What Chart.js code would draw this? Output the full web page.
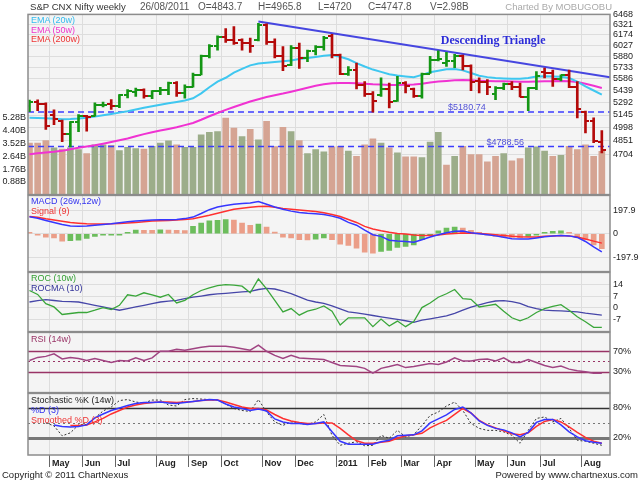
<!DOCTYPE html>
<html>
<head>
<meta charset="utf-8">
<title>S&amp;P CNX Nifty weekly</title>
<script src="https://cdn.jsdelivr.net/npm/chart.js@4.4.1/dist/chart.umd.min.js"></script>
<style>
	html, body { margin: 0; padding: 0; background: #fff; }
	#wrap { position: relative; width: 640px; height: 480px; overflow: hidden; font-family: Arial, "Liberation Sans", sans-serif; }
	#wrap canvas { position: absolute; left: 0; }
	.t { position: absolute; white-space: nowrap; font-size: 9px; line-height: 10px; z-index: 5; }
	.hd { position: absolute; top: 1px; white-space: nowrap; font-size: 10px; line-height: 12px; color: #555; z-index: 5; }
</style>
</head>
<body>
<div id="wrap">
	<canvas id="cMain" width="640" height="197" style="top:6px"></canvas>
	<canvas id="cMacd" width="640" height="93" style="top:187px"></canvas>
	<canvas id="cRoc" width="640" height="76" style="top:264px"></canvas>
	<canvas id="cRsi" width="640" height="77" style="top:324px"></canvas>
	<canvas id="cSto" width="640" height="90" style="top:385px"></canvas>

	<div class="hd" style="left:30px;color:#333;font-size:9.6px">S&amp;P CNX Nifty weekly</div>
	<div class="hd" id="hDate" style="left:140px"></div>
	<div class="hd" id="hO" style="left:198px"></div>
	<div class="hd" id="hH" style="left:258px"></div>
	<div class="hd" id="hL" style="left:318px"></div>
	<div class="hd" id="hC" style="left:368px"></div>
	<div class="hd" id="hV" style="left:430px"></div>
	<div class="hd" style="right:28px;color:#aaa;font-size:9.5px">Charted By MOBUGOBU</div>

	<div class="t" style="left:31px;top:15px;color:#33bbee">EMA (20w)</div>
	<div class="t" style="left:31px;top:24.5px;color:#ee33cc">EMA (50w)</div>
	<div class="t" style="left:31px;top:34px;color:#ee3333">EMA (200w)</div>

	<div class="t" style="left:31px;top:195.5px;color:#3333ee">MACD (26w,12w)</div>
	<div class="t" style="left:31px;top:205.5px;color:#ee3333">Signal (9)</div>

	<div class="t" style="left:31px;top:272.5px;color:#33a033">ROC (10w)</div>
	<div class="t" style="left:31px;top:282.5px;color:#333399">ROCMA (10)</div>

	<div class="t" style="left:31px;top:334px;color:#993366">RSI (14w)</div>

	<div class="t" style="left:31px;top:394.5px;color:#222">Stochastic %K (14w)</div>
	<div class="t" style="left:31px;top:404.5px;color:#3333ee">%D (3)</div>
	<div class="t" style="left:31px;top:414.5px;color:#ee3333">Smoothed %D (3)</div>

	<div class="t" style="left:2px;top:470px;font-size:9.5px;color:#222">Copyright © 2011 ChartNexus</div>
	<div class="t" style="right:2px;top:470px;font-size:9.5px;color:#222">Powered by www.chartnexus.com</div>
</div>
<script>
// weekly bars, week ending Friday
var weeks = ['23/04/2010','30/04/2010','07/05/2010','14/05/2010','21/05/2010','28/05/2010','04/06/2010','11/06/2010','18/06/2010','25/06/2010',
	'02/07/2010','09/07/2010','16/07/2010','23/07/2010','30/07/2010','06/08/2010','13/08/2010','20/08/2010','27/08/2010','03/09/2010',
	'10/09/2010','17/09/2010','24/09/2010','01/10/2010','08/10/2010','15/10/2010','22/10/2010','29/10/2010','05/11/2010','12/11/2010',
	'19/11/2010','26/11/2010','03/12/2010','10/12/2010','17/12/2010','24/12/2010','31/12/2010','07/01/2011','14/01/2011','21/01/2011',
	'28/01/2011','04/02/2011','11/02/2011','18/02/2011','25/02/2011','04/03/2011','11/03/2011','18/03/2011','25/03/2011','01/04/2011',
	'08/04/2011','15/04/2011','22/04/2011','29/04/2011','06/05/2011','13/05/2011','20/05/2011','27/05/2011','03/06/2011','10/06/2011',
	'17/06/2011','24/06/2011','01/07/2011','08/07/2011','15/07/2011','22/07/2011','29/07/2011','05/08/2011','12/08/2011','19/08/2011',
	'26/08/2011'];

var opens = [5250, 5304, 5278, 5150, 5080, 4930, 5066, 5135, 5130, 5260,
	5270, 5251, 5383, 5420, 5449, 5367, 5430, 5452, 5530, 5408,
	5480, 5640, 5884, 6018, 6143, 6103, 6100, 6066, 6100, 6312,
	6071, 5890, 5760, 5992, 5857, 5948, 6011, 6157, 5904, 5654,
	5696, 5512, 5396, 5380, 5459, 5310, 5539, 5460, 5374, 5654,
	5826, 5790, 5824, 5885, 5750, 5560, 5545, 5400, 5476, 5517,
	5486, 5366, 5471, 5680, 5661, 5581, 5634, 5482, 5180, 5073,
	4843.7];
var highs = [5323, 5327, 5290, 5207, 5085, 5070, 5150, 5140, 5290, 5300,
	5330, 5390, 5450, 5470, 5462, 5440, 5478, 5545, 5552, 5512,
	5659, 5898, 6040, 6160, 6262, 6290, 6120, 6130, 6338, 6330,
	6120, 6010, 6025, 6060, 5963, 6025, 6153, 6181, 5910, 5745,
	5790, 5552, 5428, 5598, 5533, 5618, 5552, 5470, 5659, 5880,
	5952, 5933, 5905, 5898, 5766, 5598, 5577, 5490, 5533, 5552,
	5533, 5475, 5680, 5725, 5700, 5637, 5700, 5552, 5190, 5111,
	4965.8];
var lows = [5185, 5196, 4980, 5034, 4842, 4786, 4955, 4960, 5130, 5240,
	5210, 5233, 5350, 5368, 5347, 5340, 5390, 5388, 5368, 5345,
	5480, 5637, 5860, 5963, 6070, 6040, 5963, 5933, 6090, 6040,
	5859, 5690, 5757, 5720, 5810, 5898, 5963, 5860, 5640, 5630,
	5461, 5368, 5177, 5368, 5228, 5305, 5409, 5355, 5347, 5654,
	5819, 5745, 5730, 5700, 5437, 5409, 5390, 5327, 5450, 5450,
	5360, 5195, 5450, 5598, 5490, 5561, 5475, 5111, 4940, 4832,
	4720];
var closes = [5304, 5278, 5018, 5093, 4931, 5066, 5135, 5119, 5263, 5269,
	5251, 5383, 5430, 5449, 5367, 5439, 5452, 5530, 5408, 5480,
	5640, 5884, 6018, 6143, 6103, 6062, 6066, 6018, 6312, 6071,
	5890, 5752, 5992, 5857, 5948, 6011, 6135, 5904, 5654, 5696,
	5512, 5396, 5310, 5459, 5303, 5539, 5494, 5374, 5654, 5826,
	5842, 5824, 5885, 5750, 5551, 5545, 5486, 5476, 5517, 5486,
	5366, 5471, 5627, 5661, 5581, 5634, 5482, 5211, 5073, 4846,
	4747.8];
// volume, billions
var volumes = [3.55, 3.55, 3.72, 3.21, 3.14, 3.21, 3.09, 2.82, 3.43, 3.43,
	3.39, 3.03, 3.25, 3.16, 3.14, 3.32, 3.55, 3.70, 3.43, 3.25,
	3.25, 4.11, 4.29, 4.33, 5.26, 4.58, 3.99, 4.49, 3.77, 5.04,
	3.30, 4.63, 4.33, 3.72, 2.82, 3.09, 2.94, 3.28, 3.32, 3.00,
	2.64, 3.43, 3.84, 3.55, 3.21, 2.87, 2.60, 2.60, 2.55, 3.61,
	4.29, 2.03, 2.64, 3.32, 2.76, 2.76, 2.26, 2.64, 2.82, 2.33,
	2.48, 3.21, 3.28, 3.00, 2.64, 2.71, 3.32, 3.09, 3.43, 2.64,
	2.98];
var ema20 = [5112, 5110, 5108, 5102, 5097, 5098, 5103, 5112, 5126, 5142,
	5158, 5173, 5189, 5210, 5230, 5248, 5267, 5284, 5300, 5318,
	5345, 5405, 5480, 5550, 5600, 5665, 5715, 5760, 5785, 5795,
	5805, 5815, 5825, 5845, 5858, 5872, 5888, 5898, 5875, 5840,
	5790, 5745, 5705, 5675, 5646, 5628, 5617, 5608, 5637, 5670,
	5690, 5710, 5714, 5695, 5660, 5625, 5608, 5597, 5592, 5588,
	5588, 5597, 5615, 5618, 5617, 5612, 5597, 5552, 5490, 5440,
	5388];
var ema50 = [4706, 4716, 4724, 4732, 4742, 4760, 4776, 4790, 4803, 4820,
	4838, 4858, 4878, 4902, 4926, 4948, 4966, 4985, 5003, 5028,
	5053, 5090, 5130, 5168, 5205, 5240, 5272, 5305, 5333, 5360,
	5382, 5402, 5425, 5450, 5475, 5500, 5518, 5530, 5533, 5533,
	5530, 5525, 5518, 5515, 5510, 5510, 5512, 5515, 5525, 5540,
	5552, 5560, 5567, 5570, 5568, 5563, 5560, 5556, 5555, 5553,
	5550, 5550, 5553, 5556, 5557, 5558, 5556, 5545, 5525, 5498,
	5470];
var supportLevels = [5180.74, 4788.56];
var trendStart = { x: 28, y: 6363 };
var trendEnd = { x: 71, y: 5605 };

var macdLine = [143, 130, 112, 95, 78, 66, 62, 66, 72, 78,
	84, 92, 100, 106, 111, 116, 118, 118, 120, 127,
	140, 170, 202, 225, 238, 248, 254, 258, 270, 248,
	225, 205, 190, 178, 172, 168, 162, 148, 130, 95,
	72, 30, -8, -22, -55, -62, -65, -72, -50, -28,
	-8, 8, 20, 22, 8, 0, -8, -18, -30, -42,
	-45, -44, -35, -25, -18, -14, -18, -31, -65, -110,
	-152];
var signalLine = [145, 138, 125, 115, 104, 94, 88, 83, 81, 81,
	83, 87, 91, 95, 100, 106, 110, 112, 115, 119,
	126, 140, 155, 172, 188, 205, 215, 222, 228, 230,
	222, 213, 206, 200, 193, 186, 176, 162, 145, 120,
	95, 62, 40, 25, 12, 2, -3, -10, -14, -14,
	-10, -2, 3, 6, 5, 2, -3, -8, -15, -22,
	-26, -28, -27, -22, -18, -15, -18, -28, -45, -62,
	-79];
var macdHist = [3, -2, -28, -36, -62, -58, -54, -40, -22, -8,
	-6, -3, 2, 30, 29, 28, 32, 30, 28, 27,
	62, 90, 108, 112, 118, 115, 90, 70, 81, 56,
	14, -28, -36, -50, -52, -45, -36, -50, -87, -98,
	-121, -155, -163, -149, -140, -115, -107, -93, -50, -8,
	25, 48, 56, 48, 28, 4, -8, -22, -28, -31,
	-33, -22, -3, 6, 20, 25, 8, -28, -50, -93,
	-126];

var roc = [10.4, 8, 2.4, 0.4, -4.2, -3.6, -3, -3, -1.6, 0,
	-1.2, 1.4, 7.8, 7, 9, 7.8, 6.3, 8, 2.8, 4.4,
	7.8, 10.4, 12, 13.4, 14, 13.6, 13, 9, 17.4, 11.4,
	4.4, -2.6, -0.6, -4.6, -2.2, -1, 1, -2.2, -10.6, -6.2,
	-6.2, -6.2, -11.6, -7, -11.2, -8.2, -11.6, -8.5, 0, 2.8,
	6.3, 8.4, 11, 5.4, 5, 0.4, 1.2, 2, -2.2, -6.2,
	-8, -6.2, -3, -0.6, 0.8, 1.8, -1.6, -5.6, -8.6, -12,
	-12];
var rocma = [3.4, 4.2, 4.8, 4.3, 3.8, 3.6, 3.4, 2.4, 1.4, 0.4,
	-0.6, -1.6, -0.6, 0.4, 1.4, 2.4, 3.4, 3.9, 4.4, 5.4,
	6.3, 7, 7.8, 8.3, 8.7, 9.1, 9.5, 9.8, 11, 11.7,
	11.3, 10, 8.5, 6.5, 4.5, 3.4, 2.5, 1, -0.8, -2.6,
	-3.2, -4, -4.8, -5.6, -6.4, -7.2, -8, -9, -7.6, -6.8,
	-6, -5, -3.5, -1.5, 0.3, 1.6, 3, 4, 4.2, 3.6,
	2.6, 0.6, -0.6, -1.6, -1.8, -2, -2.3, -2.6, -3.4, -4,
	-4.6];

var rsi = [52, 58, 60, 65, 55, 58, 56, 52, 56, 52,
	48, 52, 51, 57, 52, 57, 70, 70, 74, 72,
	75, 78, 80, 80, 80, 78, 75, 72, 82, 70,
	62, 56, 62, 57, 56, 55, 54, 48, 42, 41,
	40, 36.5, 27, 36.5, 40, 44, 38, 40, 43, 46,
	44, 49, 57, 51, 51, 54, 55, 51, 57, 48,
	48, 54, 48, 42, 38, 41, 35, 32, 30, 27,
	27];

var stochK = [null, null, 50, 44, 24, 30, 46, 47, 60, 74,
	82, 95, 97, 92, 90, 96, 96, 86, 84, 97,
	99, 98, 97, 96, 88, 79, 75, 73, 97, 72,
	52, 45, 52, 49, 47, 52, 67, 25, 5, 9,
	12, 4, 5, 25, 19, 35, 22, 26, 45, 65,
	72, 84, 92, 75, 49, 39, 35, 35, 32, 25,
	9, 35, 59, 62, 52, 59, 39, 15, 13, 9,
	5];
var stochD = [null, null, null, 46, 43, 42, 43, 46, 60, 68,
	75, 80, 85, 89, 91, 91, 92, 90, 89, 91,
	93, 95, 97, 96, 88, 82, 79, 75, 78, 74,
	58, 52, 49, 49, 47, 49, 52, 32, 13, 7,
	7, 7, 7, 12, 15, 24, 25, 26, 34, 50,
	58, 66, 77, 82, 70, 54, 45, 39, 36, 30,
	22, 31, 51, 57, 57, 46, 32, 22, 14, 11,
	9];
var stochSD = [null, null, null, null, null, 45, 45, 46, 52, 59,
	68, 75, 82, 86, 89, 91, 92, 92, 91, 92,
	93, 95, 96, 96, 92, 87, 82, 79, 79, 76,
	67, 59, 54, 51, 49, 49, 50, 50, 39, 26,
	14, 9, 9, 11, 13, 19, 24, 26, 29, 40,
	48, 55, 67, 79, 70, 55, 46, 40, 34, 28,
	26, 30, 43, 53, 57, 52, 42, 31, 21, 13,
	9];

// axis labels
var priceTicks = [6468, 6321, 6174, 6027, 5880, 5733, 5586, 5439, 5292, 5145, 4998, 4851, 4704];
var volTicks = [0.88, 1.76, 2.64, 3.52, 4.40, 5.28];
var macdTicks = [-197.9, 0, 197.9];
var rocTicks = [-7, 0, 7, 14];
var rsiTicks = [30, 70];
var stochTicks = [20, 80];
var monthNames = ['Jan','Feb','Mar','Apr','May','Jun','Jul','Aug','Sep','Oct','Nov','Dec'];

// look
var X_MIN = -0.18, X_MAX = 71.0;
var GRID = '#dddddd', BG = '#f4f4f4', FRAME = '#8c8c8c', TXT = '#222';
var UP = '#149614', DN = '#b40a0a';
var VOL_UP = '#9cad8a', VOL_DN = '#d5a493';
var HIST_UP = '#6cbd5c', HIST_DN = '#eb9e88';

Chart.defaults.font.family = 'Arial, "Liberation Sans", sans-serif';
Chart.defaults.font.size = 9;
Chart.defaults.color = TXT;
Chart.defaults.animation = false;
Chart.defaults.plugins.legend.display = false;
Chart.defaults.plugins.tooltip.enabled = false;
Chart.defaults.elements.point.radius = 0;
Chart.defaults.elements.line.tension = 0;

// header from the last bar
var last = closes.length - 1;
document.getElementById('hDate').textContent = weeks[last];
document.getElementById('hO').textContent = 'O=' + opens[last];
document.getElementById('hH').textContent = 'H=' + highs[last];
document.getElementById('hL').textContent = 'L=' + lows[last];
document.getElementById('hC').textContent = 'C=' + closes[last];
document.getElementById('hV').textContent = 'V=' + volumes[last].toFixed(2) + 'B';

// month ticks sit after the first week of each month
var monthTicks = [], monthText = [];
for (var i = 1; i < weeks.length; i++) {
	var d = weeks[i].split('/'), pd = weeks[i - 1].split('/');
	if (d[1] !== pd[1]) {
		monthTicks.push(i + 0.5);
		monthText.push(d[1] === '01' ? d[2] : monthNames[+d[1] - 1]);
	}
}

function pts(arr) {
	return arr.map(function (v, i) { return { x: i, y: v }; });
}

function fixTicks(list) {
	return function (s) { s.ticks = list.map(function (v) { return { value: v }; }); };
}

function xAxis(showLabels) {
	return {
		type: 'linear', min: X_MIN, max: X_MAX, offset: false,
		afterBuildTicks: fixTicks(monthTicks),
		afterFit: function (s) { s.height = showLabels ? 20 : 0; },
		grid: { color: GRID, offset: false, drawTicks: showLabels, tickLength: 12, tickColor: '#666' },
		border: { display: false },
		ticks: {
			display: showLabels, autoSkip: false, maxRotation: 0, minRotation: 0,
			align: 'start', labelOffset: 2, padding: -9,
			font: { size: 9, weight: 'bold' }, color: TXT,
			callback: function (v, i) { return monthText[i]; }
		}
	};
}

function rightAxis(min, max, list, fmt, showGrid) {
	return {
		type: 'linear', position: 'right', min: min, max: max,
		afterBuildTicks: fixTicks(list),
		afterFit: function (s) { s.width = 30; },
		grid: { color: GRID, drawTicks: false, display: showGrid },
		border: { display: false },
		ticks: { autoSkip: false, padding: 3, color: TXT, callback: fmt }
	};
}

// panel background, level lines and frame
var panelPlugin = {
	id: 'panel',
	beforeDraw: function (chart) {
		var a = chart.chartArea, c = chart.ctx;
		c.save();
		c.fillStyle = BG;
		c.fillRect(a.left, a.top, a.right - a.left, a.bottom - a.top);
		c.restore();
	},
	beforeDatasetsDraw: function (chart, args, opts) {
		var lv = (opts && opts.levels) || [];
		var a = chart.chartArea, c = chart.ctx, y = chart.scales[opts.axis || 'y'];
		c.save();
		lv.forEach(function (l) {
			var py = Math.round(y.getPixelForValue(l.value)) + 0.5;
			c.strokeStyle = l.color;
			c.lineWidth = l.width;
			c.setLineDash(l.dash || []);
			c.beginPath();
			c.moveTo(a.left, py);
			c.lineTo(a.right, py);
			c.stroke();
		});
		c.restore();
	},
	afterDraw: function (chart) {
		var a = chart.chartArea, c = chart.ctx;
		c.save();
		c.strokeStyle = FRAME;
		c.lineWidth = 1.5;
		c.strokeRect(a.left, a.top, a.right - a.left, a.bottom - a.top);
		c.restore();
	}
};

// open/close ticks of the price bars and chart notes
var ohlcPlugin = {
	id: 'ohlc',
	afterDatasetsDraw: function (chart) {
		var x = chart.scales.x, y = chart.scales.yP, c = chart.ctx, a = chart.chartArea;
		c.save();
		c.beginPath();
		c.rect(a.left, a.top, a.right - a.left, a.bottom - a.top);
		c.clip();
		c.lineWidth = 2;
		for (var i = 0; i < closes.length; i++) {
			var px = Math.round(x.getPixelForValue(i));
			var yo = Math.round(y.getPixelForValue(opens[i]));
			var yc = Math.round(y.getPixelForValue(closes[i]));
			c.strokeStyle = closes[i] >= opens[i] ? UP : DN;
			c.beginPath();
			c.moveTo(px - 4, yo); c.lineTo(px, yo);
			c.moveTo(px, yc); c.lineTo(px + 4, yc);
			c.stroke();
		}
		c.fillStyle = '#5252d6';
		c.font = '9px Arial, "Liberation Sans", sans-serif';
		c.textAlign = 'left';
		c.textBaseline = 'alphabetic';
		c.fillText('$' + supportLevels[0], x.getPixelForValue(51.2), y.getPixelForValue(supportLevels[0]) - 2);
		c.fillText('$' + supportLevels[1], x.getPixelForValue(55.9), y.getPixelForValue(supportLevels[1]) - 2);
		c.fillStyle = '#2c2cd8';
		c.font = 'bold 12px "Liberation Serif", "Times New Roman", serif';
		c.textBaseline = 'middle';
		c.fillText('Descending Triangle', x.getPixelForValue(50.3), y.getPixelForValue(6084));
		c.restore();
	}
};

function lineSet(data, color, width, order, dash) {
	return { type: 'line', data: pts(data), borderColor: color, borderWidth: width, pointRadius: 0, order: order, borderDash: dash || [], spanGaps: false, fill: false };
}

// price and volume
var mainSets = [
	{ type: 'bar', data: pts(volumes), yAxisID: 'yV', grouped: false, barThickness: 6, order: 10,
		backgroundColor: closes.map(function (c, i) { return i > 0 && c >= closes[i - 1] ? VOL_UP : VOL_DN; }) }
];
supportLevels.forEach(function (lv) {
	mainSets.push({ type: 'line', data: [{ x: X_MIN, y: lv }, { x: X_MAX, y: lv }], yAxisID: 'yP', borderColor: '#3c3cff', borderWidth: 1.5, borderDash: [6, 4], pointRadius: 0, order: 9 });
});
mainSets.push(Object.assign(lineSet(ema50, '#f032d2', 2, 6), { yAxisID: 'yP' }));
mainSets.push(Object.assign(lineSet(ema20, '#3fc7f0', 2, 5), { yAxisID: 'yP' }));
mainSets.push({ type: 'line', data: [trendStart, trendEnd], yAxisID: 'yP', borderColor: '#4646e0', borderWidth: 2, pointRadius: 0, order: 4 });
mainSets.push({ type: 'bar', yAxisID: 'yP', grouped: false, barThickness: 2, order: 3,
	data: highs.map(function (h, i) { return { x: i, y: [lows[i], h] }; }),
	backgroundColor: closes.map(function (c, i) { return c >= opens[i] ? UP : DN; }) });

new Chart(document.getElementById('cMain'), {
	type: 'line',
	data: { datasets: mainSets },
	options: {
		responsive: false,
		layout: { padding: { top: 8, bottom: 8, left: 0, right: 0 } },
		scales: {
			x: xAxis(false),
			yP: {
				type: 'logarithmic', position: 'right', min: 4293, max: 6468,
				afterBuildTicks: fixTicks(priceTicks),
				afterFit: function (s) { s.width = 30; },
				grid: { color: GRID, drawTicks: false },
				border: { display: false },
				ticks: { autoSkip: false, padding: 3, color: TXT, callback: function (v) { return String(v); } }
			},
			yV: {
				type: 'linear', position: 'left', min: 0, max: 12.4,
				afterBuildTicks: fixTicks(volTicks),
				afterFit: function (s) { s.width = 28; },
				grid: { display: false, drawTicks: false },
				border: { display: false },
				ticks: { autoSkip: false, padding: 2, color: TXT, callback: function (v) { return v.toFixed(2) + 'B'; } }
			}
		}
	},
	plugins: [panelPlugin, ohlcPlugin]
});

// MACD
new Chart(document.getElementById('cMacd'), {
	type: 'line',
	data: { datasets: [
		{ type: 'bar', data: pts(macdHist), grouped: false, barThickness: 5, minBarLength: 1.5, order: 5,
			backgroundColor: macdHist.map(function (h, i) { return i > 0 && h > macdHist[i - 1] ? HIST_UP : HIST_DN; }) },
		lineSet(signalLine, '#ff3030', 1.5, 2),
		lineSet(macdLine, '#3636ff', 1.5, 1)
	] },
	options: {
		responsive: false,
		layout: { padding: { top: 8, bottom: 8, left: 28, right: 0 } },
		scales: {
			x: xAxis(false),
			y: rightAxis(-318, 322, macdTicks, function (v) { return v === 0 ? '0' : v.toFixed(1); }, true)
		}
	},
	plugins: [panelPlugin]
});

// ROC
new Chart(document.getElementById('cRoc'), {
	type: 'line',
	data: { datasets: [
		lineSet(rocma, '#4646a8', 1.3, 2),
		lineSet(roc, '#3aa63a', 1.3, 1)
	] },
	options: {
		responsive: false,
		layout: { padding: { top: 8, bottom: 8, left: 28, right: 0 } },
		scales: {
			x: xAxis(false),
			y: rightAxis(-14.6, 21.4, rocTicks, function (v) { return String(v); }, true)
		}
	},
	plugins: [panelPlugin]
});

// RSI
new Chart(document.getElementById('cRsi'), {
	type: 'line',
	data: { datasets: [ lineSet(rsi, '#a04482', 1.5, 1) ] },
	options: {
		responsive: false,
		layout: { padding: { top: 8, bottom: 8, left: 28, right: 0 } },
		scales: {
			x: xAxis(false),
			y: rightAxis(-11, 107, rsiTicks, function (v) { return v + '%'; }, false)
		},
		plugins: { panel: { levels: [
			{ value: 70, color: '#993366', width: 1.5 },
			{ value: 30, color: '#993366', width: 1.5 },
			{ value: 50, color: '#993366', width: 1, dash: [2, 3] }
		] } }
	},
	plugins: [panelPlugin]
});

// Stochastic
new Chart(document.getElementById('cSto'), {
	type: 'line',
	data: { datasets: [
		lineSet(stochK, '#333333', 1, 3, [2, 2]),
		lineSet(stochSD, '#ff3030', 1.5, 2),
		lineSet(stochD, '#3636ff', 1.5, 1)
	] },
	options: {
		responsive: false,
		layout: { padding: { top: 8, bottom: 0, left: 28, right: 0 } },
		scales: {
			x: xAxis(true),
			y: rightAxis(-14.6, 109.4, stochTicks, function (v) { return v + '%'; }, false)
		},
		plugins: { panel: { levels: [
			{ value: 80, color: '#333333', width: 1.5 },
			{ value: 20, color: '#777777', width: 3 },
			{ value: 50, color: '#777777', width: 1, dash: [2, 3] }
		] } }
	},
	plugins: [panelPlugin]
});
</script>
</body>
</html>
